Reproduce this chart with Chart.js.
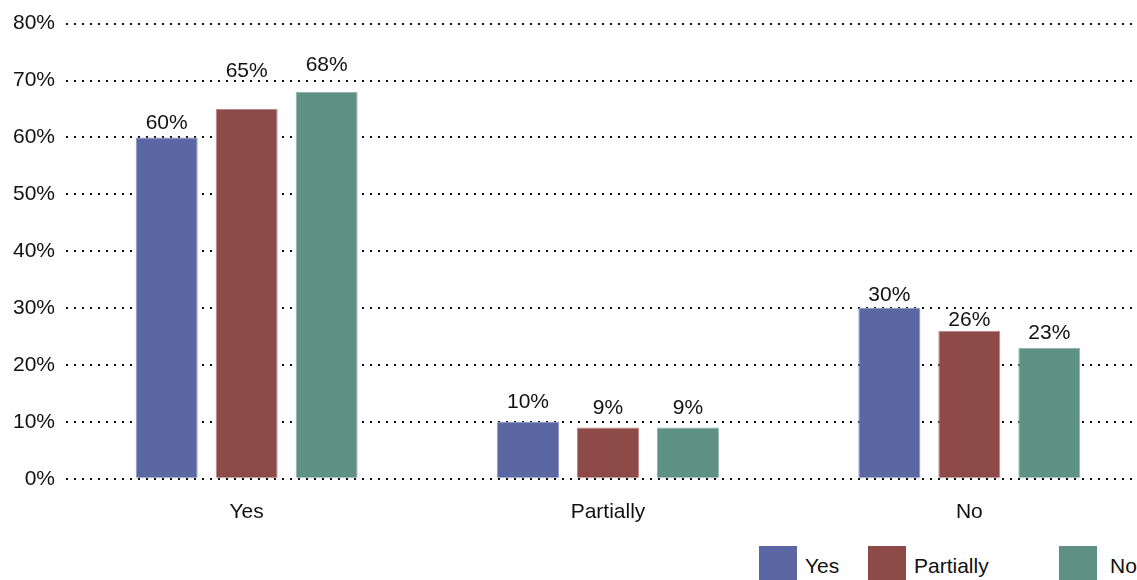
<!DOCTYPE html>
<html>
<head>
<meta charset="utf-8">
<script src="https://cdn.jsdelivr.net/npm/chart.js@4/dist/chart.umd.min.js"></script>
<style>
  html, body { margin: 0; padding: 0; background: #fff; overflow: hidden; width: 1137px; height: 580px; }
  #wrap { position: relative; width: 1137px; height: 580px; }
  #chart { position: absolute; left: 0; top: 0; }
  .leg { position: absolute; top: 546px; font: 21px "Liberation Sans", Arial, sans-serif; color: #111; white-space: nowrap; }
  .leg span.box { position: absolute; left: 0; top: 0; width: 38px; height: 38px; }
  .leg span.txt { position: absolute; top: 8px; }
</style>
</head>
<body>
<div id="wrap">
  <canvas id="chart" width="1150" height="538"></canvas>
  <div id="legend"></div>
</div>
<script>
// answers per category, one series per group
const categories = ['Yes', 'Partially', 'No'];
const seriesNames = ['Yes', 'Partially', 'No'];
const seriesYes = [60, 10, 30];
const seriesPartially = [65, 9, 26];
const seriesNo = [68, 9, 23];
const yTicks = [0, 10, 20, 30, 40, 50, 60, 70, 80];

const colors = ['#5b67a2', '#8e4a49', '#5f9084'];
const borders = ['#8e96c4', '#b88886', '#93b5ab'];
// how far each value label sits above its bar (px), per series
const labelGap = [[8, 14, 7], [32, 14, 5], [21, 14, 9]];
const FONT = '"Liberation Sans", Arial, sans-serif';

/* value labels above each bar */
const valueLabels = {
  id: 'valueLabels',
  afterDatasetsDraw(chart) {
    const ctx = chart.ctx;
    ctx.save();
    ctx.font = '21px ' + FONT;
    ctx.fillStyle = '#111';
    ctx.textAlign = 'center';
    ctx.textBaseline = 'alphabetic';
    chart.data.datasets.forEach((ds, i) => {
      chart.getDatasetMeta(i).data.forEach((bar, j) => {
        ctx.fillText(ds.data[j] + '%', bar.x, bar.y - labelGap[i][j]);
      });
    });
    ctx.restore();
  }
};

const datasets = [seriesYes, seriesPartially, seriesNo].map((d, i) => ({
  label: seriesNames[i],
  data: d,
  backgroundColor: colors[i],
  borderColor: borders[i],
  borderWidth: 1,
  categoryPercentage: 0.664,
  barPercentage: 0.775
}));

new Chart(document.getElementById('chart'), {
  type: 'bar',
  data: { labels: categories, datasets },
  options: {
    responsive: false,
    animation: false,
    layout: { padding: { top: 6, right: 0, left: 0, bottom: 0 } },
    plugins: { legend: { display: false }, tooltip: { enabled: false } },
    scales: {
      x: {
        grid: { display: false },
        border: { display: false },
        ticks: { color: '#111', font: { family: FONT, size: 21 }, padding: 13 }
      },
      y: {
        min: 0, max: 80,
        afterFit: (axis) => { axis.width = 66; },
        afterBuildTicks: (axis) => { axis.ticks = yTicks.map(v => ({ value: v })); },
        grid: { color: '#111', lineWidth: 2, drawTicks: false, tickLength: 0 },
        border: { display: false, dash: [2, 6] },
        ticks: { color: '#111', font: { family: FONT, size: 21 }, padding: 11, callback: (v) => v + '%' }
      }
    }
  },
  plugins: [valueLabels]
});

/* legend, placed like the original */
const legendPos = [759, 868, 1059];
const legEl = document.getElementById('legend');
seriesNames.forEach((name, i) => {
  const item = document.createElement('div');
  item.className = 'leg';
  item.style.left = legendPos[i] + 'px';
  item.innerHTML = `<span class="box" style="background:${colors[i]}"></span><span class="txt" style="left:${i === 2 ? 51 : 46}px">${name}</span>`;
  legEl.appendChild(item);
});
</script>
</body>
</html>
